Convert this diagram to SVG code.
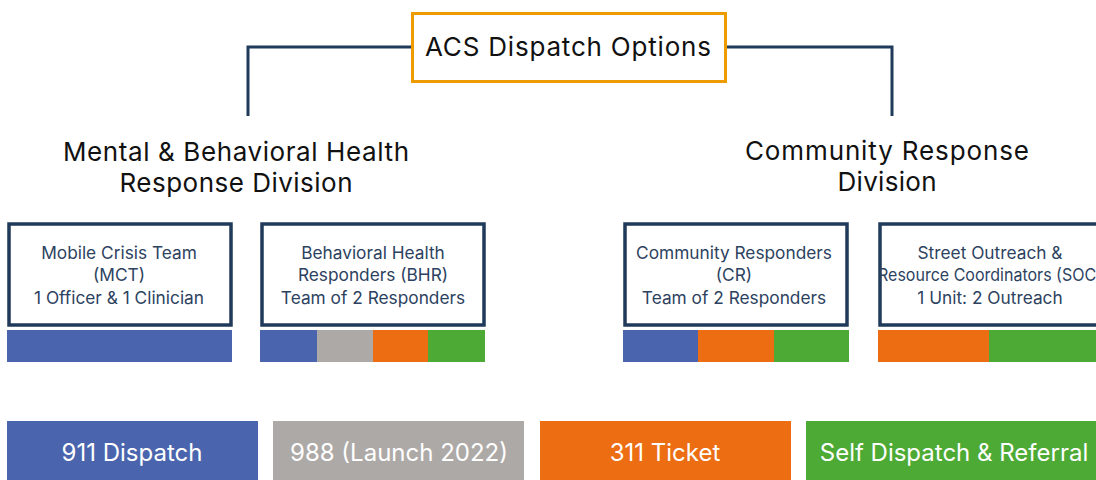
<svg xmlns="http://www.w3.org/2000/svg" width="1096" height="480" viewBox="0 0 1096 480">
<style>
text{font-family:"Inter","Noto Sans","Liberation Sans",sans-serif;text-anchor:middle}
.title{font-size:26px;fill:#111}
.div{font-size:26px;fill:#111}
.box{fill:#fff;stroke:#1F3A5A;stroke-width:3.5}
.bt{font-size:17.3px;fill:#2C4260}
.btn{font-size:24px;fill:#fff}
.blue{fill:#4A65AD}.gray{fill:#ADA9A7}.orange{fill:#EC6D12}.green{fill:#4DAA35}
.conn{fill:none;stroke:#1F3A5A;stroke-width:3}
</style>
<g id="connectors">
<path class="conn" d="M412,47 H248 V116"/>
<path class="conn" d="M725,47 H892 V116"/>
</g>
<g id="acs">
<rect x="412.5" y="13.5" width="313" height="68" fill="#fff" stroke="#EE9B00" stroke-width="3"/>
<text class="title" x="568" y="56" textLength="286">ACS Dispatch Options</text>
</g>
<g id="mbh-division">
<text class="div" x="236" y="161" textLength="346">Mental &amp; Behavioral Health</text>
<text class="div" x="236" y="192" textLength="233">Response Division</text>
</g>
<g id="cr-division">
<text class="div" x="887" y="160" textLength="284">Community Response</text>
<text class="div" x="887" y="191" textLength="99">Division</text>
</g>
<g id="mct">
<rect class="box" x="9" y="224" width="222" height="101"/>
<text class="bt" x="119" y="259">Mobile Crisis Team</text>
<text class="bt" x="119" y="281">(MCT)</text>
<text class="bt" x="119" y="304">1 Officer &amp; 1 Clinician</text>
<rect class="blue" x="7" y="330" width="225" height="32"/>
</g>
<g id="bhr">
<rect class="box" x="262" y="224" width="222" height="101"/>
<text class="bt" x="373" y="259">Behavioral Health</text>
<text class="bt" x="373" y="281">Responders (BHR)</text>
<text class="bt" x="373" y="304">Team of 2 Responders</text>
<rect class="blue" x="260" y="330" width="57" height="32"/>
<rect class="gray" x="317" y="330" width="56" height="32"/>
<rect class="orange" x="373" y="330" width="55" height="32"/>
<rect class="green" x="428" y="330" width="57" height="32"/>
</g>
<g id="cr">
<rect class="box" x="625" y="224" width="222" height="101"/>
<text class="bt" x="734" y="259">Community Responders</text>
<text class="bt" x="734" y="281">(CR)</text>
<text class="bt" x="734" y="304">Team of 2 Responders</text>
<rect class="blue" x="623" y="330" width="75" height="32"/>
<rect class="orange" x="698" y="330" width="76" height="32"/>
<rect class="green" x="774" y="330" width="75" height="32"/>
</g>
<g id="soc">
<rect class="box" x="880" y="224" width="222" height="101"/>
<text class="bt" x="990" y="259">Street Outreach &amp;</text>
<text class="bt" x="990" y="281" textLength="224" lengthAdjust="spacingAndGlyphs">Resource Coordinators (SOC)</text>
<text class="bt" x="990" y="304">1 Unit: 2 Outreach</text>
<rect class="orange" x="878" y="330" width="111" height="32"/>
<rect class="green" x="989" y="330" width="110" height="32"/>
</g>
<g id="b911">
<rect class="blue" x="7" y="421" width="251" height="59"/>
<text class="btn" x="132" y="461">911 Dispatch</text>
</g>
<g id="b988">
<rect class="gray" x="273" y="421" width="251" height="59"/>
<text class="btn" x="399" y="461">988 (Launch 2022)</text>
</g>
<g id="b311">
<rect class="orange" x="540" y="421" width="251" height="59"/>
<text class="btn" x="665" y="461">311 Ticket</text>
</g>
<g id="bself">
<rect class="green" x="806" y="421" width="300" height="59"/>
<text class="btn" x="954" y="461">Self Dispatch &amp; Referral</text>
</g>
</svg>
